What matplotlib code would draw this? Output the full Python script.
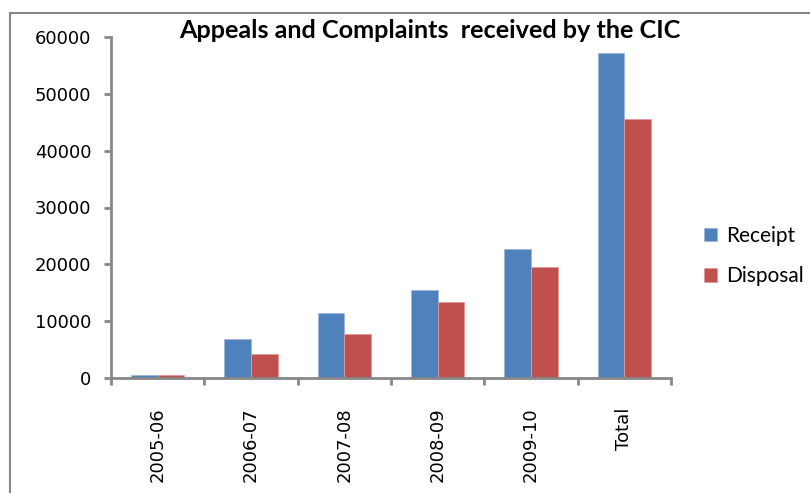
import matplotlib
matplotlib.use("Agg")
import matplotlib.pyplot as plt
from matplotlib.patches import Rectangle
import numpy as np

categories = ["2005-06", "2006-07", "2007-08", "2008-09", "2009-10", "Total"]
receipt = [600, 6900, 11350, 15550, 22750, 57150]
disposal = [600, 4250, 7800, 13450, 19450, 45500]
yticks = [0, 10000, 20000, 30000, 40000, 50000, 60000]
title = "Appeals and Complaints  received by the CIC"

W, H = 810, 493
fig = plt.figure(figsize=(W / 100, H / 100), dpi=100)

# outer frame (cut off at right and bottom)
fig.add_artist(Rectangle((10 / W, -0.1), 1.2, 1 - 13 / H + 0.1,
                         transform=fig.transFigure, fill=False,
                         edgecolor="#888888", linewidth=1.5))

ax = fig.add_axes([111 / W, 1 - 378 / H, 560 / W, 341 / H])
x = np.arange(len(categories))
bw = 0.286
blue = "#4F81BD"
red = "#C0504D"
ax.bar(x - bw / 2, receipt, width=bw, color=blue, label="Receipt",
       edgecolor="#9DB6DA", linewidth=0.6)
ax.bar(x + bw / 2, disposal, width=bw, color=red, label="Disposal",
       edgecolor="#E09A98", linewidth=0.6)

ax.set_xlim(-0.5, len(categories) - 0.5)
ax.set_ylim(0, 60000)
ax.set_yticks(yticks)
ax.set_yticklabels([str(v) for v in yticks])

ax.set_xticks(np.arange(len(categories) + 1) - 0.5)
ax.set_xticklabels([])
ax.set_xticks(x, minor=True)
ax.set_xticklabels(categories, minor=True, rotation=90)

spine_c = "#878787"
for s in ["top", "right"]:
    ax.spines[s].set_visible(False)
for s in ["left", "bottom"]:
    ax.spines[s].set_color(spine_c)
    ax.spines[s].set_linewidth(2)
ax.tick_params(axis="y", which="major", length=5, width=2, color=spine_c,
               labelsize=13, pad=9, labelcolor="black")
ax.tick_params(axis="x", which="major", length=5, width=2, color=spine_c)
ax.tick_params(axis="x", which="minor", length=0, labelsize=13, pad=21,
               labelcolor="black")

fig.text(430 / W, 1 - 31 / H, title, ha="center", va="center",
         fontsize=18.2, fontweight="bold", family="Lato")

fig.legend(loc="center left", bbox_to_anchor=(704 / W, 1 - 256 / H),
           frameon=False, prop={"family": "Lato", "size": 15},
           handlelength=0.6, handleheight=0.6, handletextpad=0.45,
           labelspacing=1.0, borderpad=0, borderaxespad=0)

fig.savefig("out.png", dpi=100)
